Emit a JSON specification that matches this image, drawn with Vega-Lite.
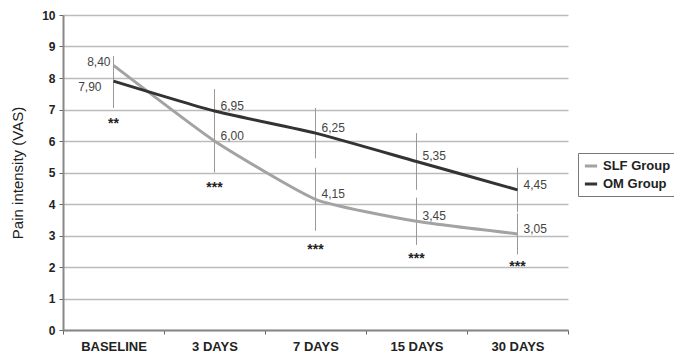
{
  "$schema": "https://vega.github.io/schema/vega-lite/v6.json",
  "width": 505,
  "height": 315,
  "autosize": {"type": "none"},
  "padding": {"left": 63, "top": 15, "right": 106, "bottom": 25},
  "background": "white",
  "config": {
    "font": "Liberation Sans",
    "view": {"stroke": null},
    "axisY": {
      "tickCount": 10,
      "labelFont": "Liberation Sans",
      "labelFontWeight": "bold",
      "labelFontSize": 12,
      "labelColor": "#222",
      "labelPadding": 4,
      "tickColor": "#666",
      "tickSize": 4,
      "domainColor": "#888",
      "domainWidth": 2,
      "grid": true,
      "gridColor": "#bbb",
      "gridWidth": 1.5,
      "titleFont": "Liberation Sans",
      "titleFontSize": 15,
      "titleFontWeight": "normal",
      "titleColor": "#222",
      "titlePadding": 16
    }
  },
  "datasets": {
    "points": [
      {"day": "BASELINE", "group": "SLF Group", "value": 8.40, "lo": 8.10, "hi": 8.70, "label": "8,40"},
      {"day": "3 DAYS", "group": "SLF Group", "value": 6.00, "lo": 5.00, "hi": 7.00, "label": "6,00"},
      {"day": "7 DAYS", "group": "SLF Group", "value": 4.15, "lo": 3.15, "hi": 5.15, "label": "4,15"},
      {"day": "15 DAYS", "group": "SLF Group", "value": 3.45, "lo": 2.70, "hi": 4.20, "label": "3,45"},
      {"day": "30 DAYS", "group": "SLF Group", "value": 3.05, "lo": 2.40, "hi": 3.70, "label": "3,05"},
      {"day": "BASELINE", "group": "OM Group", "value": 7.90, "lo": 7.05, "hi": 8.70, "label": "7,90"},
      {"day": "3 DAYS", "group": "OM Group", "value": 6.95, "lo": 6.25, "hi": 7.65, "label": "6,95"},
      {"day": "7 DAYS", "group": "OM Group", "value": 6.25, "lo": 5.45, "hi": 7.05, "label": "6,25"},
      {"day": "15 DAYS", "group": "OM Group", "value": 5.35, "lo": 4.45, "hi": 6.25, "label": "5,35"},
      {"day": "30 DAYS", "group": "OM Group", "value": 4.45, "lo": 3.75, "hi": 5.15, "label": "4,45"}
    ],
    "stars": [
      {"day": "BASELINE", "pos": 6.55, "sig": "**"},
      {"day": "3 DAYS", "pos": 4.5, "sig": "***"},
      {"day": "7 DAYS", "pos": 2.55, "sig": "***"},
      {"day": "15 DAYS", "pos": 2.25, "sig": "***"},
      {"day": "30 DAYS", "pos": 2.0, "sig": "***"}
    ]
  },
  "encoding": {
    "x": {
      "field": "day",
      "type": "nominal",
      "sort": ["BASELINE", "3 DAYS", "7 DAYS", "15 DAYS", "30 DAYS"],
      "scale": {"type": "band", "paddingInner": 0, "paddingOuter": 0},
      "axis": {
        "title": null,
        "labelAngle": 0,
        "labelFont": "Liberation Sans",
        "labelFontWeight": "bold",
        "labelFontSize": 13,
        "labelColor": "#222",
        "labelPadding": 6,
        "tickBand": "extent",
        "tickColor": "#666",
        "tickSize": 4,
        "domainColor": "#888",
        "domainWidth": 2,
        "grid": false
      }
    }
  },
  "layer": [
    {
      "data": {"name": "points"},
      "mark": {"type": "rule", "color": "#999", "strokeWidth": 1},
      "encoding": {
        "y": {
          "field": "lo",
          "type": "quantitative",
          "scale": {"domain": [0, 10], "nice": false},
          "axis": {"title": "Pain intensity (VAS)", "tickCount": 10}
        },
        "y2": {"field": "hi"}
      }
    },
    {
      "data": {"name": "points"},
      "mark": {"type": "line", "interpolate": "cardinal", "tension": 0.5, "strokeWidth": 3},
      "encoding": {
        "y": {"field": "value", "type": "quantitative", "axis": {"title": "Pain intensity (VAS)", "tickCount": 10}},
        "color": {
          "field": "group",
          "type": "nominal",
          "scale": {"domain": ["SLF Group", "OM Group"], "range": ["#a3a3a3", "#333333"]},
          "legend": {
            "title": null,
            "orient": "none",
            "legendX": 515,
            "legendY": 138,
            "symbolType": "stroke",
            "symbolStrokeWidth": 3,
            "symbolSize": 150,
            "labelFont": "Liberation Sans",
            "labelFontWeight": "bold",
            "labelFontSize": 13,
            "labelColor": "#222",
            "labelOffset": 4,
            "strokeColor": "#777",
            "padding": 5,
            "rowPadding": 3,
            "fillColor": "white"
          }
        }
      }
    },
    {
      "data": {"name": "points"},
      "transform": [{"filter": "datum.day === 'BASELINE' && datum.group === 'SLF Group'"}],
      "mark": {"type": "text", "align": "right", "dx": -3, "dy": -3, "fontSize": 12, "color": "#444"},
      "encoding": {
        "y": {"field": "value", "type": "quantitative", "axis": {"title": "Pain intensity (VAS)", "tickCount": 10}},
        "text": {"field": "label"}
      }
    },
    {
      "data": {"name": "points"},
      "transform": [{"filter": "datum.day === 'BASELINE' && datum.group === 'OM Group'"}],
      "mark": {"type": "text", "align": "right", "dx": -12, "dy": 6, "fontSize": 12, "color": "#444"},
      "encoding": {
        "y": {"field": "value", "type": "quantitative", "axis": {"title": "Pain intensity (VAS)", "tickCount": 10}},
        "text": {"field": "label"}
      }
    },
    {
      "data": {"name": "points"},
      "transform": [{"filter": "datum.day !== 'BASELINE'"}],
      "mark": {"type": "text", "align": "left", "dx": 6, "dy": -5, "fontSize": 12, "color": "#444"},
      "encoding": {
        "y": {"field": "value", "type": "quantitative", "axis": {"title": "Pain intensity (VAS)", "tickCount": 10}},
        "text": {"field": "label"}
      }
    },
    {
      "data": {"name": "stars"},
      "mark": {"type": "text", "fontSize": 14, "fontWeight": "bold", "color": "#222"},
      "encoding": {
        "y": {"field": "pos", "type": "quantitative", "axis": {"title": "Pain intensity (VAS)", "tickCount": 10}},
        "text": {"field": "sig"}
      }
    }
  ]
}
